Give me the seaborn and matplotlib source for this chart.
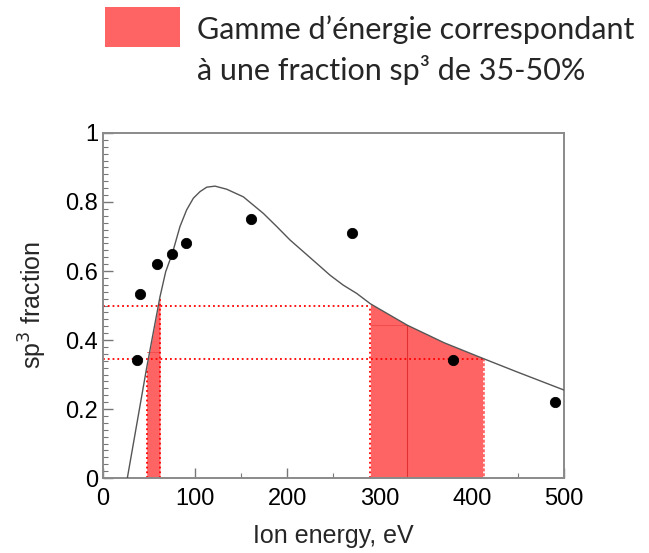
import numpy as np
import matplotlib
matplotlib.use("Agg")
import matplotlib.pyplot as plt
import seaborn as sns
from matplotlib.patches import Rectangle
from matplotlib.ticker import MultipleLocator, FuncFormatter

# measured points
energy = [36.9, 40.1, 58.6, 75.0, 90.5, 160.5, 270.0, 379.6, 490.0]
sp3 = [0.342, 0.533, 0.620, 0.650, 0.681, 0.751, 0.710, 0.342, 0.221]

# model curve
fit_energy = [26.4, 47.4, 61.8, 68.0, 75.2, 83.5, 90.7, 98.0, 105.2, 112.5, 121.5,
              134.2, 152.2, 173.9, 188.4, 202.8, 217.3, 231.8, 246.2, 260.6,
              275.2, 290.0, 330.0, 370.0, 413.6, 448.6, 500.0]
fit_sp3 = [0.0, 0.32, 0.525, 0.598, 0.651, 0.729, 0.777, 0.811, 0.830, 0.843, 0.846,
           0.837, 0.815, 0.767, 0.729, 0.690, 0.656, 0.622, 0.588, 0.559,
           0.535, 0.505, 0.443, 0.392, 0.345, 0.308, 0.255]

# energy windows giving 35-50% sp3
band_low = (47.4, 61.8)
band_high = (290.0, 413.6)
level_low = 0.345
level_high = 0.50

sns.set_style("white")
plt.rcParams["font.family"] = ["Liberation Sans", "DejaVu Sans"]

fig = plt.figure(figsize=(6.49, 5.53), dpi=100)
ax = fig.add_axes([0.1587, 0.1356, 0.7103, 0.6239])

fill_col = "#ff6464"
fe = np.array(fit_energy)
fs = np.array(fit_sp3)
for lo, hi in (band_low, band_high):
    m = (fe >= lo) & (fe <= hi)
    ax.fill_between(fe[m], 0, fs[m], color=fill_col, lw=0, zorder=1)

# thin marks inside the bands
ax.plot([330, 330], [0, 0.443], color="#e03030", lw=0.8, zorder=1.5)
ax.plot([290, 330], [0.443, 0.443], color="#f04848", lw=0.6, zorder=1.5)
ax.plot([band_low[0], band_low[1]], [0.366, 0.366], color="#f04848", lw=0.6, zorder=1.5)

dot = dict(color="red", ls=":", lw=1.3, zorder=2)
ax.plot([0, band_high[0]], [level_high, level_high], **dot)
ax.plot([0, band_high[1]], [level_low, level_low], **dot)
ax.plot([band_high[0], band_high[0]], [0, level_high], **dot)
ax.plot([band_high[1], band_high[1]], [0, level_low], color="white", ls=":", lw=1.3, zorder=2)
ax.plot([band_low[0], band_low[0]], [0, 0.32], **dot)
ax.plot([band_low[1], band_low[1]], [0, 0.52], **dot)

sns.lineplot(x=fit_energy, y=fit_sp3, sort=False, estimator=None, color="#555555",
             lw=1.0, ax=ax, zorder=3)
sns.scatterplot(x=energy, y=sp3, color="black", s=55, edgecolor="black", ax=ax, zorder=4)

ax.set_xlim(0, 500)
ax.set_ylim(0, 1)
ax.xaxis.set_major_locator(MultipleLocator(100))
ax.xaxis.set_minor_locator(MultipleLocator(50))
ax.yaxis.set_major_locator(MultipleLocator(0.2))
ax.yaxis.set_minor_locator(MultipleLocator(0.02))
ax.yaxis.set_major_formatter(FuncFormatter(lambda v, p: "%g" % round(v, 2)))
ax.tick_params(which="both", direction="in", colors="#777777", labelcolor="black",
               labelsize=17, top=False, right=False, left=True, bottom=True)
ax.tick_params(which="major", length=7, width=1.0)
ax.tick_params(which="minor", length=3.5, width=0.8)
ax.tick_params(axis="x", pad=7)
for s in ax.spines.values():
    s.set_color("#8a8a8a")
    s.set_linewidth(1.4)

ax.set_xlabel("Ion energy, eV", fontsize=18, labelpad=10)
ax.set_ylabel("sp$^3$ fraction", fontsize=18, labelpad=12)

# legend box at the top
fig.patches.append(Rectangle((105 / 649, 1 - 47 / 553), 75 / 649, 40 / 553,
                             transform=fig.transFigure, color=fill_col, lw=0))
fig.text(197 / 649, 1 - 30 / 553, "Gamme d\u2019\u00e9nergie correspondant",
         fontsize=22, family=["Lato", "DejaVu Sans"], va="center", ha="left")
fig.text(197 / 649, 1 - 70 / 553, "\u00e0 une fraction sp\u00b3 de 35-50%",
         fontsize=22, family=["Lato", "DejaVu Sans"], va="center", ha="left")

fig.savefig("out.png", dpi=100)
